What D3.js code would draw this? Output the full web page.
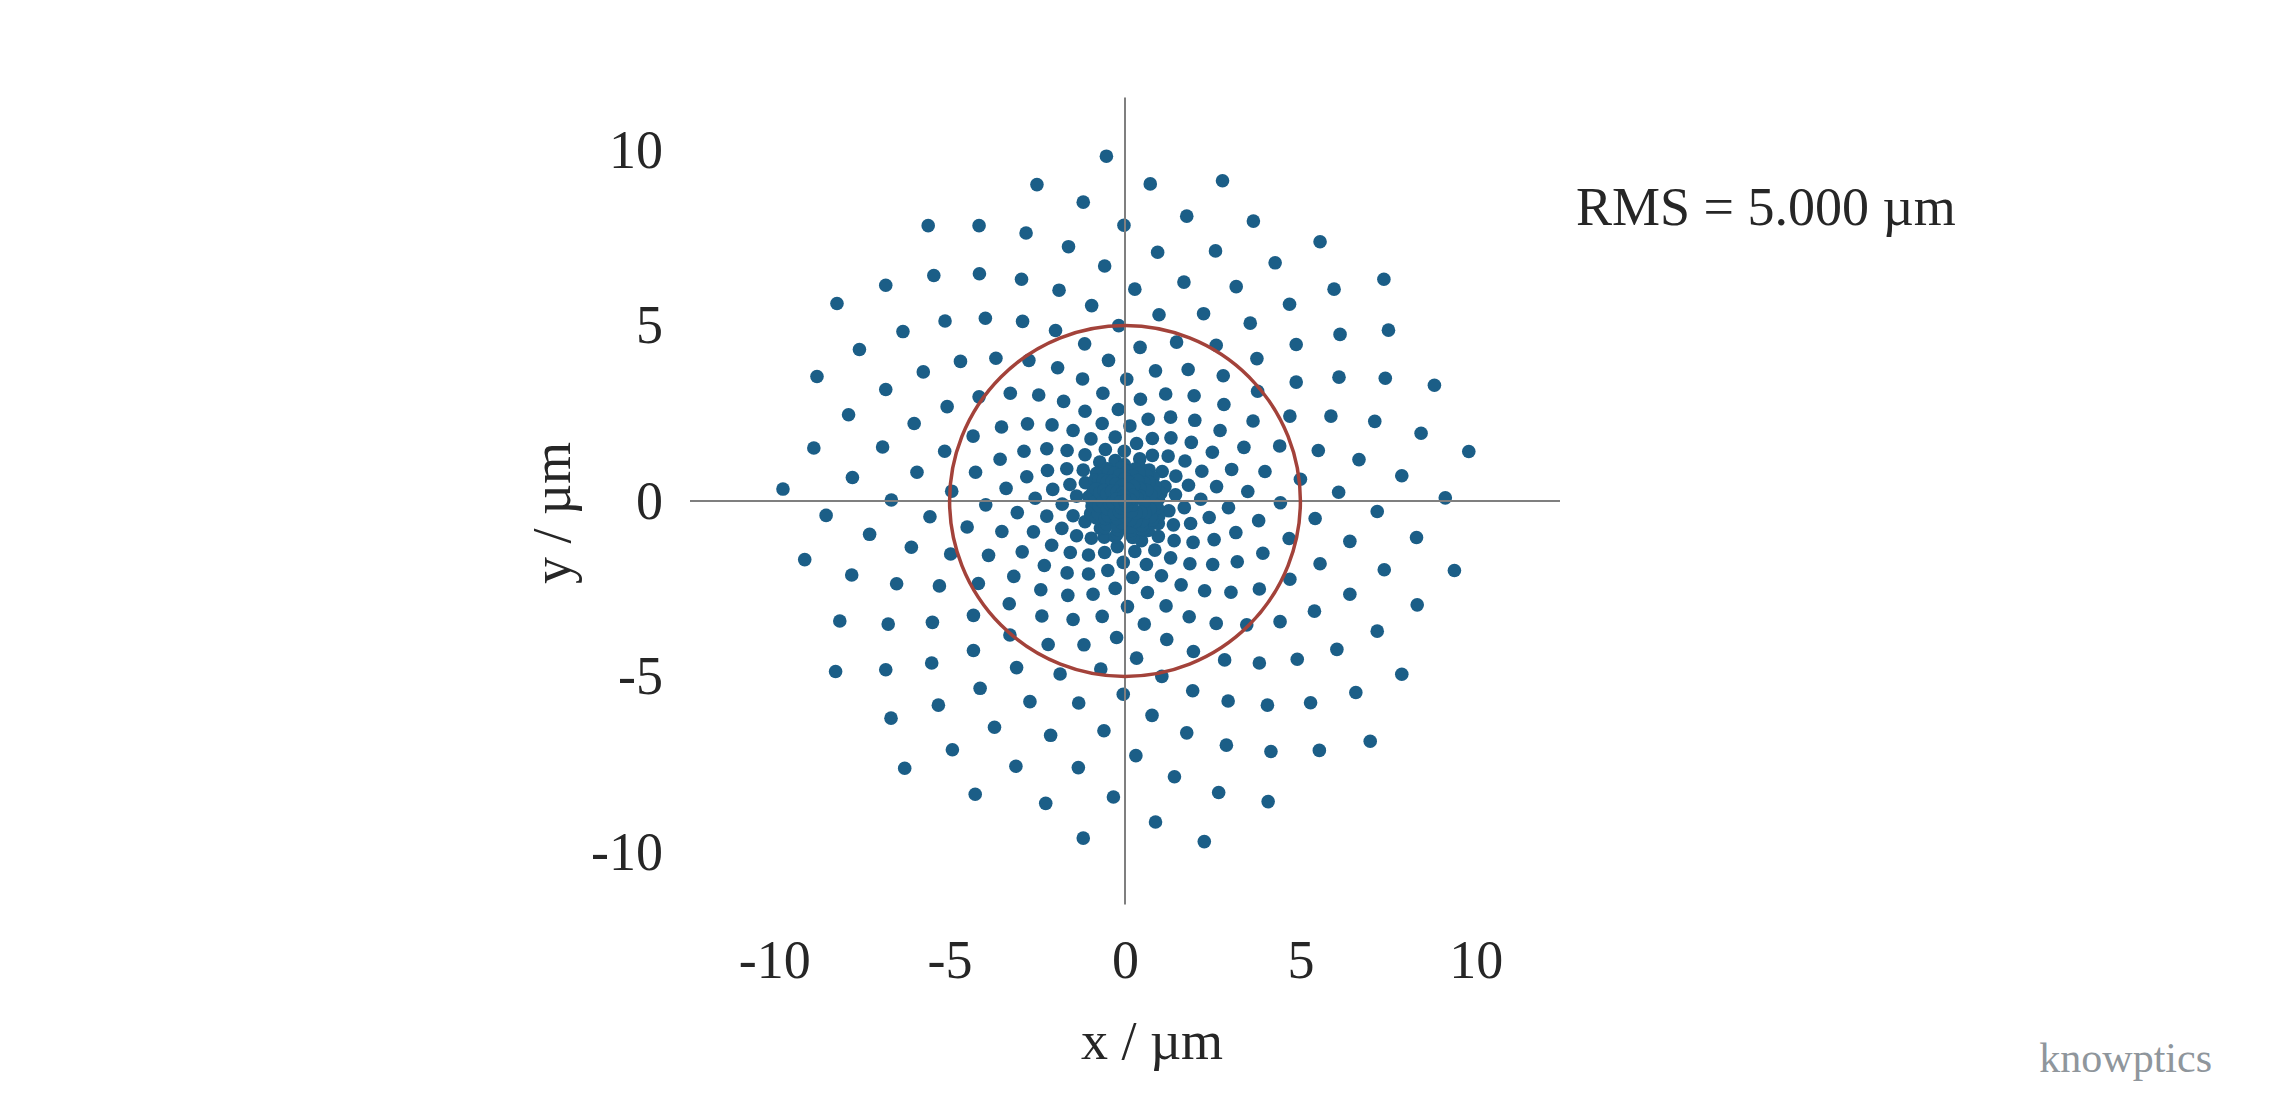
<!DOCTYPE html>
<html>
<head>
<meta charset="utf-8">
<script src="https://cdn.jsdelivr.net/npm/d3@7/dist/d3.min.js"></script>
<style>
  body { margin: 0; background: #fff; }
  svg text { font-family: "Liberation Serif", "Times New Roman", serif; fill: #262626; }
</style>
</head>
<body>
<svg width="2280" height="1095"></svg>
<script>
// spot diagram, values in um
var upperLeft = [
  [-0.53,9.83],[-2.51,9.02],[-1.19,8.52],[-0.03,7.86],[-5.61,7.85],[-4.16,7.85],[-2.82,7.64],[-1.61,7.25],[-0.58,6.70],
  [-6.82,6.15],[-5.45,6.43],[-4.15,6.48],[-2.95,6.32],[-1.88,6.01],[-0.95,5.57],[-0.18,5.00],
  [-8.21,5.63],[-6.33,4.83],[-5.13,5.13],[-3.98,5.21],[-2.92,5.12],[-1.98,4.86],[-1.15,4.48],[-0.47,4.01],
  [-7.57,4.32],[-4.69,3.98],[-3.68,4.07],[-2.74,4.01],[-1.92,3.80],[-1.21,3.48],
  [-8.78,3.55],[-6.82,3.18],[-5.75,3.68],[-4.16,2.97],[-3.27,3.07],[-2.46,3.02],[-1.75,2.84],[-0.63,3.07],[-1.14,2.56],[-0.19,2.61],
  [-7.88,2.46],[-6.01,2.21],[-5.07,2.69],[-3.52,2.11],[-2.78,2.20],[-2.08,2.17],[-1.48,2.01],[-0.65,2.21],
  [-0.97,1.77],[-0.28,1.82],
  [-8.87,1.51],[-6.91,1.54],[-5.14,1.42],[-4.33,1.85],[-3.56,1.19],[-2.88,1.42],[-2.23,1.49],[-1.65,1.44],[-1.14,1.32],[-0.56,1.47],[-0.02,1.42],
  [-0.72,1.11],[-0.28,1.15],
  [-7.77,0.67],[-5.93,0.82],[-4.26,0.82],[-3.39,0.36],[-2.80,0.69],[-2.21,0.87],[-1.66,0.92],[-1.19,0.88],[-2.06,0.33],[-1.57,0.47],[-1.13,0.52],[-0.81,0.79],[-1.38,0.14],[-2.56,0.08],
  [-9.75,0.34],[-6.66,0.03],[-4.94,0.28]
];
var upperRight = [
  [0.72,9.04],[2.78,9.13],[1.76,8.12],[3.66,7.98],[5.56,7.39],[0.93,7.09],[2.58,7.13],[4.28,6.79],[7.38,6.32],
  [0.28,6.04],[1.68,6.24],[3.17,6.11],[5.96,6.04],[4.69,5.61],[0.97,5.31],[2.24,5.34],[3.57,5.07],[7.51,4.87],[6.13,4.75],
  [0.43,4.38],[1.47,4.53],[2.60,4.44],[4.88,4.46],[3.76,4.06],[0.87,3.71],[1.80,3.75],[2.80,3.57],[4.88,3.39],[6.10,3.53],[7.42,3.50],[8.82,3.30],
  [0.05,3.47],[3.78,3.13],[0.44,2.90],[1.16,3.05],[1.97,3.00],[2.82,2.75],
  [0.66,2.33],[1.30,2.39],[1.99,2.30],[3.65,2.28],[4.70,2.42],[5.87,2.42],[7.12,2.27],[8.44,1.93],
  [0.14,2.14],[2.71,2.01],[0.78,1.78],[1.31,1.80],[1.89,1.67],[0.33,1.64],
  [2.49,1.39],[3.39,1.53],[4.41,1.57],[5.51,1.44],[6.67,1.18],[9.80,1.41],[7.89,0.72],
  [0.78,1.30],[1.23,1.28],[1.71,1.14],[0.42,1.20],[2.19,0.85],[3.04,0.90],[3.99,0.84],[5.00,0.62],[6.09,0.25],[9.13,0.09],
  [1.06,0.84],[1.45,0.71],[1.81,0.45],[2.61,0.41],[3.50,0.27],[2.16,0.05],[1.44,0.18],[1.14,0.41],[0.69,0.88]
];
var lowerLeft = [
  [-8.52,-0.41],[-5.56,-0.45],[-3.97,-0.11],[-1.79,-0.09],[-3.07,-0.33],[-2.23,-0.43],[-1.48,-0.42],
  [-7.28,-0.95],[-4.50,-0.74],[-3.51,-0.87],[-2.61,-0.88],[-1.80,-0.78],[-1.14,-0.59],[-1.38,-0.99],[-0.96,-1.06],[-0.59,-1.03],[-0.22,-1.30],
  [-9.13,-1.67],[-6.09,-1.32],[-4.97,-1.51],[-3.89,-1.55],[-2.93,-1.45],[-2.09,-1.26],[-1.56,-1.47],[-1.04,-1.54],[-0.58,-1.47],[-0.05,-1.75],
  [-7.79,-2.11],[-6.51,-2.36],[-5.29,-2.42],[-4.18,-2.35],[-3.17,-2.15],[-2.30,-1.84],[-1.65,-2.05],[-1.04,-2.08],[-0.49,-1.98],
  [-0.28,-2.49],[-2.40,-2.53],[-1.63,-2.69],[-0.91,-2.66],
  [-8.13,-3.42],[-6.75,-3.51],[-5.49,-3.46],[-4.32,-3.26],[-3.30,-2.93],[-2.37,-3.28],[-1.48,-3.38],[-0.65,-3.29],
  [-3.28,-3.82],[-2.19,-4.09],[-1.17,-4.10],[-0.24,-3.89],[-4.32,-4.26],
  [-8.25,-4.86],[-6.82,-4.81],[-5.51,-4.62],[-3.09,-4.75],[-1.85,-4.93],[-0.69,-4.79],[-4.13,-5.34],[-0.05,-5.51],
  [-5.32,-5.82],[-2.71,-5.72],[-1.32,-5.76],[-6.67,-6.19],[-3.72,-6.45],[-2.12,-6.68],[-0.60,-6.55],
  [-4.92,-7.09],[-6.28,-7.62],[-3.11,-7.56],[-1.33,-7.60],[-4.27,-8.36],[-2.26,-8.62],[-0.33,-8.44],[-1.19,-9.61]
];
var lowerRight = [
  [4.43,-0.05],[7.19,-0.30],[2.95,-0.19],[1.69,-0.19],[1.25,-0.28],[2.40,-0.47],[3.81,-0.56],[5.42,-0.50],[1.38,-0.68],[1.87,-0.64],[0.95,-0.64],
  [3.16,-0.90],[4.68,-1.07],[6.41,-1.15],[8.31,-1.04],[0.47,-1.13],[0.95,-1.01],[1.40,-1.13],[1.94,-1.18],[2.54,-1.10],
  [3.93,-1.49],[5.56,-1.79],[7.39,-1.96],[9.39,-1.98],[0.28,-1.44],[0.85,-1.40],[1.30,-1.62],[1.85,-1.79],[2.50,-1.81],[3.20,-1.73],
  [0.61,-1.81],[0.22,-2.18],[1.04,-2.13],[1.60,-2.39],[2.27,-2.56],[3.02,-2.60],[3.83,-2.51],[4.70,-2.23],[6.41,-2.66],[8.33,-2.96],
  [0.64,-2.61],[0.07,-3.01],[1.17,-2.99],[1.83,-3.30],[2.60,-3.49],[3.47,-3.53],[4.42,-3.44],[5.40,-3.14],[7.19,-3.71],
  [0.55,-3.51],[1.19,-3.95],[1.95,-4.29],[6.04,-4.23],[0.33,-4.48],[2.84,-4.53],[3.83,-4.62],[4.91,-4.51],[7.89,-4.94],
  [1.05,-5.00],[1.93,-5.41],[2.94,-5.70],[4.06,-5.82],[5.29,-5.75],[6.58,-5.46],
  [0.77,-6.11],[1.76,-6.61],[2.89,-6.96],[4.16,-7.14],[5.54,-7.11],[6.99,-6.85],
  [0.31,-7.26],[1.41,-7.86],[2.67,-8.31],[4.08,-8.57],[0.87,-9.15],[2.26,-9.71]
];
// the dense core can't be resolved, these are rough guesses that fill it
var core = [
  [1.02,0.22],[0.80,0.66],[0.42,0.96],[-0.02,1.04],[-0.50,0.92],[-0.86,0.60],[-1.03,0.12],[-0.98,-0.36],
  [-0.70,-0.78],[-0.28,-1.02],[0.22,-1.04],[0.66,-0.84],[0.96,-0.44],
  [0.95,0.05],[0.86,0.42],[0.62,0.72],[0.28,0.91],[-0.10,0.95],[-0.46,0.83],[-0.75,0.58],[-0.92,0.24],
  [-0.94,-0.14],[-0.82,-0.48],[-0.57,-0.76],[-0.22,-0.93],[0.16,-0.94],[0.50,-0.81],[0.78,-0.55],[0.93,-0.20],
  [0.84,0.26],[0.68,0.54],[0.40,0.78],[0.06,0.84],[-0.30,0.80],[-0.62,0.60],[-0.82,0.34],[-0.86,-0.02],
  [-0.76,-0.36],[-0.52,-0.66],[-0.20,-0.82],[0.16,-0.84],[0.48,-0.70],[0.74,-0.44],[0.86,-0.10],
  [0.74,0.18],[0.55,0.52],[0.22,0.72],[-0.16,0.74],[-0.50,0.56],[-0.72,0.24],[-0.74,-0.14],[-0.56,-0.50],
  [-0.22,-0.72],[0.16,-0.74],[0.50,-0.56],[0.72,-0.22],
  [0.62,0.30],[0.36,0.58],[0.00,0.64],[-0.36,0.56],[-0.60,0.30],[-0.64,-0.02],[-0.48,-0.42],[-0.10,-0.62],[0.30,-0.58],[0.58,-0.34],
  [0.55,-0.02],[0.42,0.36],[0.10,0.54],[-0.26,0.48],[-0.52,0.20],[-0.50,-0.22],[-0.22,-0.50],[0.16,-0.53],[0.45,-0.32],
  [0.42,0.14],[0.24,0.42],[-0.08,0.44],[-0.38,0.28],[-0.42,-0.10],[-0.30,-0.36],[0.02,-0.44],[0.32,-0.34],
  [0.34,0.10],[0.10,0.33],[-0.22,0.27],[-0.35,-0.04],[-0.16,-0.31],[0.18,-0.30],
  [0.22,0.16],[-0.08,0.22],[-0.24,0.06],[-0.10,-0.20],[0.20,-0.12],
  [0.14,0.04],[-0.04,0.14],[-0.14,-0.04],[0.04,-0.14],[0,0]
];

var rmsRadius = 5.0;
var xTicks = [-10, -5, 0, 5, 10];
var yTicks = [-10, -5, 0, 5, 10];

var spots = upperLeft.concat(upperRight, lowerLeft, lowerRight, core);

var svg = d3.select('svg');
svg.append('rect').attr('width', 2280).attr('height', 1095).attr('fill', '#fff');

var x = d3.scaleLinear().domain([-12.4, 12.4]).range([690, 1560]);
var y = d3.scaleLinear().domain([-11.5, 11.5]).range([904.4, 97.6]);
var unit = x(1) - x(0);

svg.append('g')
  .selectAll('circle')
  .data(spots)
  .enter()
  .append('circle')
  .attr('cx', function(d){ return x(d[0]); })
  .attr('cy', function(d){ return y(d[1]); })
  .attr('r', 6.8)
  .attr('fill', '#1b5e87');

// cross hair through the chief ray
svg.append('line')
  .attr('x1', x(-12.4)).attr('x2', x(12.4))
  .attr('y1', y(0)).attr('y2', y(0))
  .attr('stroke', '#7f7f7f').attr('stroke-width', 2);
svg.append('line')
  .attr('x1', x(0)).attr('x2', x(0))
  .attr('y1', y(-11.5)).attr('y2', y(11.5))
  .attr('stroke', '#7f7f7f').attr('stroke-width', 2);

svg.append('circle')
  .attr('cx', x(0))
  .attr('cy', y(0))
  .attr('r', rmsRadius * unit)
  .attr('fill', 'none')
  .attr('stroke', '#a3423a')
  .attr('stroke-width', 3.5);

// plain hyphen for negatives, like the original
var plain = function(d){ return String(d); };

var xAxis = svg.append('g')
  .attr('transform', 'translate(0,940)')
  .call(d3.axisBottom(x).tickValues(xTicks).tickFormat(plain).tickSize(0).tickPadding(0));
var yAxis = svg.append('g')
  .attr('transform', 'translate(663,0)')
  .call(d3.axisLeft(y).tickValues(yTicks).tickFormat(plain).tickSize(0).tickPadding(0));

[xAxis, yAxis].forEach(function(g){
  g.select('.domain').remove();
  g.selectAll('text')
    .attr('font-size', 54)
    .attr('font-family', '"Liberation Serif", "Times New Roman", serif')
    .attr('fill', '#262626');
});

svg.append('text')
  .attr('x', 1152).attr('y', 1059)
  .attr('text-anchor', 'middle')
  .attr('font-size', 54)
  .text('x / µm');

svg.append('text')
  .attr('transform', 'translate(570,513) rotate(-90)')
  .attr('text-anchor', 'middle')
  .attr('font-size', 54)
  .text('y / µm');

svg.append('text')
  .attr('x', 1576).attr('y', 225)
  .attr('font-size', 54)
  .text('RMS = ' + rmsRadius.toFixed(3) + ' µm');

svg.append('text')
  .attr('x', 2212).attr('y', 1072)
  .attr('text-anchor', 'end')
  .attr('font-size', 42)
  .style('fill', '#8f969c')
  .text('knowptics');
</script>
</body>
</html>
